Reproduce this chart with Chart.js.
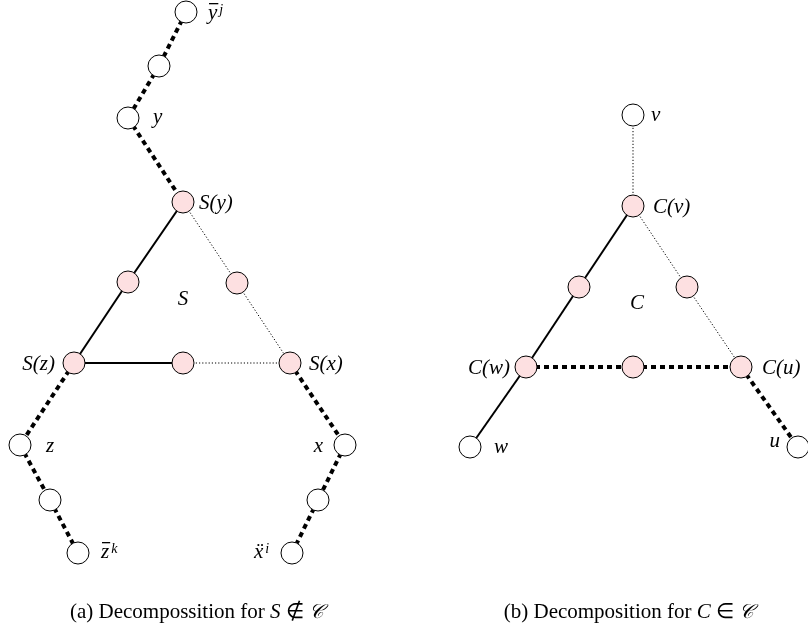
<!doctype html>
<html>
<head>
<meta charset="utf-8">
<script src="https://cdn.jsdelivr.net/npm/chart.js"></script>
<style>
body { margin: 0; background: #fff; }
#wrap { width: 808px; height: 637px; position: relative; }
</style>
</head>
<body>
<div id="wrap"><canvas id="graph"></canvas></div>
<script>
	// node positions (diagram units = pixels of the figure) and fill kind
	var nodeX = [186, 159, 128, 183, 128, 237, 74, 183, 290, 20, 50, 78, 345, 318, 292,
	             633, 633, 579, 687, 526, 633, 741, 470, 798];
	var nodeY = [12, 66, 118, 202, 282, 283, 363, 363, 363, 445, 500, 553, 445, 500, 553,
	             115, 206, 287, 287, 367, 367, 367, 447, 447];
	var nodePink = [0, 0, 0, 1, 1, 1, 1, 1, 1, 0, 0, 0, 0, 0, 0,
	                0, 1, 1, 1, 1, 1, 1, 0, 0];

	// edges by style: pairs of node indices
	var thickEdges = [[0, 1], [1, 2], [2, 3], [6, 9], [9, 10], [10, 11], [8, 12], [12, 13], [13, 14],
	                  [19, 20], [20, 21], [21, 23]];
	var dottedEdges = [[3, 5], [5, 8], [7, 8], [15, 16], [16, 18], [18, 21]];
	var solidEdges = [[3, 4], [4, 6], [6, 7], [16, 17], [17, 19], [19, 22]];

	// labels: text, x, y, align, overline, superscript
	var labelText = ['y', 'y', 'S(y)', 'S', 'S(z)', 'S(x)', 'z', 'z', 'x', 'ẍ',
	                 'v', 'C(v)', 'C', 'C(w)', 'C(u)', 'w', 'u'];
	var labelX = [208, 153, 199, 183, 55, 309, 46, 101, 323, 254,
	              651, 653, 637, 510, 762, 494, 780];
	var labelY = [19, 123, 209, 305, 370, 370, 452, 558, 452, 558,
	              121, 213, 309, 374, 374, 453, 447];
	var labelAlign = ['left', 'left', 'left', 'center', 'right', 'left', 'left', 'left', 'right', 'left',
	                  'left', 'left', 'center', 'right', 'left', 'left', 'right'];
	var labelBar = [1, 0, 0, 0, 0, 0, 0, 1, 0, 0, 0, 0, 0, 0, 0, 0, 0];
	var labelSup = ['j', '', '', '', '', '', '', 'k', '', 'i', '', '', '', '', '', '', ''];

	var captionText = [
		[['(a) Decompossition for ', 'r'], ['S', 'i'], [' \u2209 ', 'r'], ['\uD835\uDC9E', 'c']],
		[['(b) Decomposition for ', 'r'], ['C', 'i'], [' \u2208 ', 'r'], ['\uD835\uDC9E', 'c']]
	];
	var captionX = [197, 629];
	var captionY = [618, 618];

	function pt(i) { return { x: nodeX[i], y: nodeY[i] }; }

	var datasets = [{
		label: 'nodes',
		data: nodeX.map(function (v, i) { return pt(i); }),
		showLine: false,
		pointRadius: 11,
		pointHoverRadius: 11,
		pointBackgroundColor: nodePink.map(function (p) { return p ? '#fde0e1' : '#ffffff'; }),
		pointBorderColor: '#000',
		pointBorderWidth: 1,
		order: 0,
		clip: false
	}];

	function addEdges(list, width, dash) {
		list.forEach(function (e) {
			datasets.push({
				data: [pt(e[0]), pt(e[1])],
				showLine: true,
				borderColor: '#000',
				borderWidth: width,
				borderDash: dash,
				pointRadius: 0,
				order: 1,
				clip: false
			});
		});
	}
	addEdges(thickEdges, 4, [5, 4]);
	addEdges(dottedEdges, 1, [1.2, 2]);
	addEdges(solidEdges, 2, []);

	var labelPlugin = {
		id: 'labels',
		afterDatasetsDraw: function (chart) {
			var c = chart.ctx, sx = chart.scales.x, sy = chart.scales.y;
			c.save();
			c.fillStyle = '#000';
			c.textBaseline = 'alphabetic';
			for (var i = 0; i < labelText.length; i++) {
				var px = sx.getPixelForValue(labelX[i]);
				var py = sy.getPixelForValue(labelY[i]);
				c.font = 'italic 21px "Liberation Serif"';
				c.textAlign = labelAlign[i];
				c.fillText(labelText[i], px, py);
				var w = c.measureText(labelText[i]).width;
				var left = labelAlign[i] === 'left' ? px : (labelAlign[i] === 'right' ? px - w : px - w / 2);
				if (labelBar[i]) {
					c.fillRect(left + 1, py - 16, w, 1.3);
				}
				if (labelSup[i]) {
					c.font = 'italic 14px "Liberation Serif"';
					c.textAlign = 'left';
					c.fillText(labelSup[i], left + w + 2, py - 5);
				}
			}
			// captions
			for (var k = 0; k < captionText.length; k++) {
				var parts = captionText[k];
				var fonts = { r: '21px "Liberation Serif"', i: 'italic 21px "Liberation Serif"', c: 'italic 20px "DejaVu Serif"' };
				var total = 0;
				parts.forEach(function (p) { c.font = fonts[p[1]]; total += c.measureText(p[0]).width; });
				var x = sx.getPixelForValue(captionX[k]) - total / 2;
				var y = sy.getPixelForValue(captionY[k]);
				c.textAlign = 'left';
				parts.forEach(function (p) {
					c.font = fonts[p[1]];
					c.fillText(p[0], x, y);
					x += c.measureText(p[0]).width;
				});
			}
			c.restore();
		}
	};

	new Chart(document.getElementById('graph'), {
		type: 'scatter',
		data: { datasets: datasets },
		options: {
			responsive: true,
			maintainAspectRatio: false,
			animation: false,
			layout: { padding: 0, autoPadding: false },
			events: [],
			scales: {
				x: { type: 'linear', min: 0, max: 808, display: false },
				y: { type: 'linear', min: 0, max: 637, reverse: true, display: false }
			},
			plugins: {
				legend: { display: false },
				tooltip: { enabled: false }
			}
		},
		plugins: [labelPlugin]
	});
</script>
</body>
</html>
